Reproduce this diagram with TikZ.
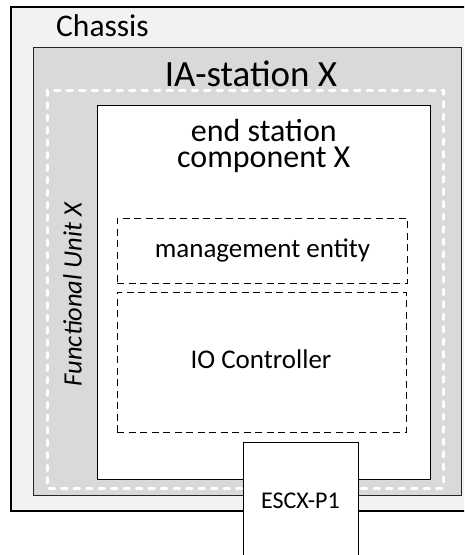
\documentclass[tikz,border=0pt]{standalone}
\usepackage{fontspec}
\setmainfont{Carlito}
\definecolor{chassisfill}{HTML}{F2F2F2}
\definecolor{stationfill}{HTML}{D9D9D9}
\tikzset{
  chassisbox/.style={draw=black, line width=2pt, fill=chassisfill},
  stationbox/.style={draw=black!85, line width=1pt, fill=stationfill},
  unitline/.style={draw=white, line width=3pt, line cap=round, dash pattern=on 5.5pt off 7pt},
  compbox/.style={draw=black, line width=1pt, fill=white},
  entitybox/.style={draw=black, line width=0.9pt, dash pattern=on 7pt off 4.5pt},
  portbox/.style={draw=black, line width=0.9pt, fill=white},
  lbl/.style={inner sep=0pt, text=black}
}
\begin{document}
\begin{tikzpicture}[x=1pt,y=1pt]
\useasboundingbox (0,0) rectangle (464,-555);
\clip (0,0) rectangle (464,-555);
% chassis
\path[chassisbox] (11,-7) rectangle (476,-511);
\node[lbl, anchor=base west, font=\fontsize{31.5}{34}\selectfont] (chassis) at (56,-36.7) {Chassis};
% IA station
\path[stationbox] (33.3,-47.7) rectangle (461.7,-495);
\node[lbl, anchor=base, font=\fontsize{37}{40}\selectfont] (ia) at (251,-86) {IA-station X};
% functional unit (white dashed)
\path[unitline] (47,-90) rectangle (443,-488);
\node[lbl, anchor=base, rotate=90, font=\fontsize{26.5}{30}\selectfont\itshape] (fu) at (81.7,-294.5) {Functional Unit X};
% end station component
\path[compbox] (97,-105) rectangle (430,-479);
\node[lbl, anchor=base, align=center, font=\fontsize{32}{26.5}\selectfont] (es) at (263.8,-167.5) {end station\\component X};
% management entity
\node[entitybox, minimum width=290pt, minimum height=65pt, inner sep=0pt] (me) at (262,-250.5) {};
\node[lbl, anchor=base, font=\fontsize{27}{30}\selectfont] (melbl) at (262.5,-257) {management entity};
% IO controller
\node[entitybox, minimum width=289pt, minimum height=140pt, inner sep=0pt] (io) at (261.5,-362) {};
\node[lbl, anchor=base, font=\fontsize{27}{30}\selectfont] (iolbl) at (261,-368.3) {IO Controller};
% port
\node[portbox, minimum width=115pt, minimum height=130pt, inner sep=0pt, anchor=north] (port) at (300.5,-442) {};
\node[lbl, anchor=base, font=\fontsize{24}{28}\selectfont] (portlbl) at (300.4,-508.3) {ESCX-P1};
\end{tikzpicture}
\end{document}
